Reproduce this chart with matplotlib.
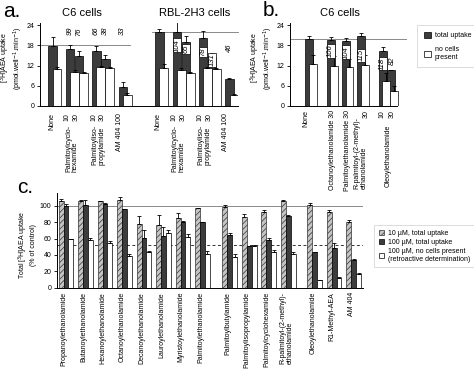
import matplotlib
matplotlib.use('Agg')
import numpy as np
import matplotlib.pyplot as plt
from matplotlib.patches import Patch
from matplotlib.transforms import blended_transform_factory

plt.rcParams['font.family'] = ['Liberation Sans', 'DejaVu Sans']
plt.rcParams['hatch.linewidth'] = 0.5
plt.rcParams['font.size'] = 5

DARK = '#3c3c3c'
HATCH_FACE = '#c4c4c4'

# ---------------- panel a data ----------------
a_doses = ['', '10', '30', '10', '30', '']
a_groups = ['None', 'Palmitoylcyclo-\nhexamide', 'Palmitoyliso-\npropylamide', 'AM 404 100']
c6_total = [17.7, 16.8, 14.8, 16.2, 13.8, 5.5]
c6_total_err = [2.8, 1.4, 1.4, 1.5, 1.3, 1.5]
c6_nocells = [10.9, 10.1, 9.7, 11.6, 11.2, 3.3]
c6_nocells_err = [0.6, 0.5, 0.5, 0.3, 0.3, 0.6]
c6_pct = ['', '99', '76', '66', '38', '33']
c6_control = 18.0
rbl_total = [21.9, 21.9, 19.0, 20.1, 14.6, 7.9]
rbl_total_err = [1.0, 3.6, 1.7, 2.2, 1.2, 0.4]
rbl_nocells = [11.2, 10.7, 9.7, 11.4, 10.9, 3.3]
rbl_nocells_err = [1.2, 0.5, 0.5, 0.3, 0.3, 0.2]
rbl_pct = ['', '104', '65', '78', '131', '46']
rbl_control = 22.0

# ---------------- panel b data ----------------
b_names = ['None', 'Octanoylethanolamide 30', 'Palmitoylethanolamide 30',
           'R-palmitoyl-(2-methyl)-\nethanolamide', '10', '30']
b_total = [19.8, 19.6, 19.4, 20.7, 16.4, 10.6]
b_total_err = [0.8, 0.8, 0.9, 1.0, 1.0, 0.0]
b_nocells = [12.4, 11.9, 11.7, 12.1, 7.4, 4.3]
b_nocells_err = [2.7, 3.0, 2.2, 3.0, 2.3, 1.5]
b_pct = ['', '106', '104', '115', '118', '82']
b_control = 20.0

# ---------------- panel c data ----------------
c_names = ['Propanoylethanolamide', 'Butanoylethanolamide', 'Hexanoylethanolamide',
           'Octanoylethanolamide', 'Decanoylethanolamide', 'Lauroylethanolamide',
           'Myristoylethanolamide', 'Palmitoylethanolamide', 'Palmitoylbutylamide',
           'Palmitoylisopropylamide', 'Palmitoylcyclohexamide',
           'R-palmitoyl-(2-methyl)-\nethanolamide', 'Oleoylethanolamide',
           'R1-Methyl-AEA', 'AM 404']
c_10_total = [105.5, 105.5, 105.5, 107, 78, 77, 84.5, 97, 98.5, 86, 92.5, 106, 100.5, 92.5, 80.5]
c_10_err = [2.5, 1, 0.5, 3.5, 9.5, 12, 7, 0.5, 2.5, 4, 2.5, 0.5, 2.5, 2.5, 2]
c_100_total = [99.5, 101, 102.5, 96, 60.5, 62.5, 80.5, 80, 64, 50.5, 58, 88, 43, 49, 33.5]
c_100_err = [2.5, 6, 1, 0.5, 10, 11, 0.5, 0.5, 3, 0.5, 2.5, 0.5, 0.5, 6, 1]
c_100_nocells = [59, 58.5, 54.5, 39, 43, 67, 62, 40.5, 38, 51, 44, 41, 9, 12, 17]
c_100_nocells_err = [0.5, 2, 2, 2, 2, 3.5, 3, 4, 3, 0.5, 2, 2.5, 0.5, 1.5, 1]
c_nocells_level = 52

W, H = 474, 375
fig = plt.figure(figsize=(4.74, 3.75), dpi=100)


def px_axes(x0, x1, y_base, y_top):
    return fig.add_axes([x0 / W, 1 - y_base / H, (x1 - x0) / W, (y_base - y_top) / H])


def style(ax):
    for s in ['top', 'right']:
        ax.spines[s].set_visible(False)
    for s in ['left', 'bottom']:
        ax.spines[s].set_linewidth(0.7)
    ax.tick_params(axis='y', length=2.5, width=0.6, pad=1.5, labelsize=5)
    ax.tick_params(axis='x', length=0, labelbottom=False)


def pair_bars(ax, pos, total, terr, nocells, nerr, w=0.95, off=0.5):
    pos = np.asarray(pos)
    z = np.zeros(len(pos))
    ax.bar(pos, total, w, color=DARK, edgecolor='black', linewidth=0.5,
           yerr=[z, terr], error_kw=dict(elinewidth=0.6, capsize=1.5, capthick=0.6), zorder=2)
    ax.bar(pos + off, nocells, w, color='white', edgecolor='black', linewidth=0.5,
           yerr=[z, nerr], error_kw=dict(elinewidth=0.6, capsize=1.5, capthick=0.6), zorder=3)


def pct_labels(ax, pos, labels, ys, boxed):
    for x, t, y, b in zip(pos, labels, ys, boxed):
        if not t:
            continue
        bbox = dict(boxstyle='square,pad=0.08', fc='white', ec='black', lw=0.5) if b else None
        ax.text(x, y, t, rotation=90, ha='center', va='center', style='italic',
                fontsize=5.5, bbox=bbox, zorder=5)


# ================= panel a =================
axa = px_axes(40, 238, 106, 23)
style(axa)
slot = np.array([0, 1.95, 2.95, 4.85, 5.85, 7.8])
c6_pos = slot
rbl_pos = slot + 11.85
pair_bars(axa, c6_pos, c6_total, c6_total_err, c6_nocells, c6_nocells_err)
pair_bars(axa, rbl_pos, rbl_total, rbl_total_err, rbl_nocells, rbl_nocells_err)
axa.set_xlim(-1.4, 20.6)
axa.set_ylim(0, 24.6)
axa.set_yticks([0, 6, 12, 18, 24])
axa.plot([-1.4, 8.6], [c6_control] * 2, color='#777777', lw=0.6, zorder=1)
axa.plot([11.0, 20.6], [rbl_control] * 2, color='#777777', lw=0.6, zorder=1, clip_on=False)
pct_labels(axa, c6_pos, c6_pct, [0, 22.2, 22.0, 22.2, 22.2, 22.2], [False] * 6)
pct_labels(axa, rbl_pos, rbl_pct, [0, 18.0, 17.0, 16.0, 13.6, 17.2],
           [False, True, True, True, True, False])

ta = blended_transform_factory(axa.transData, axa.transAxes)
for pos in (c6_pos, rbl_pos):
    axa.text(pos[0] - 0.1, -0.085, a_groups[0], rotation=90, ha='center', va='top', transform=ta)
    for x, d in zip(pos, a_doses):
        if d:
            axa.text(x - 0.3, -0.09, d, rotation=90, ha='center', va='top', transform=ta)
    axa.text((pos[1] + pos[2]) / 2 - 0.3, -0.23, a_groups[1], rotation=90, ha='center',
             va='top', multialignment='left', transform=ta, linespacing=1.0)
    axa.text((pos[3] + pos[4]) / 2 - 0.3, -0.23, a_groups[2], rotation=90, ha='center',
             va='top', multialignment='left', transform=ta, linespacing=1.0)
    axa.text(pos[5] - 0.4, -0.085, a_groups[3], rotation=90, ha='center', va='top', transform=ta)

fig.text(12 / W, 1 - 58 / H, '[$^{3}$H]AEA uptake\n(pmol.well$^{-1}$.min$^{-1}$)', rotation=90,
         ha='center', va='center', fontsize=5, linespacing=1.0)
fig.text(3 / W, 1 - 21 / H, 'a.', fontsize=15, va='bottom')
fig.text(82 / W, 1 - 18 / H, 'C6 cells', fontsize=8, ha='center', va='bottom')
fig.text(195 / W, 1 - 18 / H, 'RBL-2H3 cells', fontsize=8, ha='center', va='bottom')

# ================= panel b =================
axb = px_axes(290, 407, 106, 23)
style(axb)
b_pos = np.array([0, 2.7, 4.6, 6.5, 9.2, 10.2])
pair_bars(axb, b_pos, b_total, b_total_err, b_nocells, b_nocells_err, w=1.0, off=0.45)
axb.set_xlim(-2.4, 12.25)
axb.set_ylim(0, 24.6)
axb.set_yticks([0, 6, 12, 18, 24])
axb.spines['bottom'].set_bounds(-2.4, 11.0)
axb.axhline(b_control, color='#777777', lw=0.6, zorder=1)
pct_labels(axb, b_pos[:5], b_pct[:5], [0, 16.4, 15.9, 15.0, 12.6], [False, True, True, True, True])
axb.text(b_pos[5] + 0.15, 13.5, b_pct[5], rotation=90, ha='center', va='center',
         style='italic', fontsize=5.5)

tb = blended_transform_factory(axb.transData, axb.transAxes)
axb.text(b_pos[0] - 0.4, -0.05, b_names[0], rotation=90, ha='center', va='top', transform=tb)
axb.text(b_pos[1] + 0.2, -0.05, b_names[1], rotation=90, ha='center', va='top', transform=tb)
axb.text(b_pos[2] + 0.2, -0.05, b_names[2], rotation=90, ha='center', va='top', transform=tb)
axb.text(b_pos[3] - 0.1, -0.13, b_names[3], rotation=90, ha='center', va='top',
         multialignment='left', transform=tb, linespacing=1.0)
axb.text(b_pos[3] + 0.6, -0.05, '30', rotation=90, ha='center', va='top', transform=tb)
axb.text(b_pos[4] - 0.1, -0.05, b_names[4], rotation=90, ha='center', va='top', transform=tb)
axb.text(b_pos[5] + 0.2, -0.05, b_names[5], rotation=90, ha='center', va='top', transform=tb)
axb.text((b_pos[4] + b_pos[5]) / 2 + 0.2, -0.22, 'Oleoylethanolamide', rotation=90,
         ha='center', va='top', transform=tb)

fig.text(263 / W, 1 - 20 / H, 'b.', fontsize=15, va='bottom')
fig.text(340 / W, 1 - 18 / H, 'C6 cells', fontsize=8, ha='center', va='bottom')
fig.text(262 / W, 1 - 58 / H, '[$^{3}$H]AEA uptake\n(pmol.well$^{-1}$.min$^{-1}$)', rotation=90,
         ha='center', va='center', fontsize=5, linespacing=1.0)

b_handles = [Patch(facecolor=DARK, edgecolor='black', linewidth=0.5, label='total uptake'),
             Patch(facecolor='white', edgecolor='black', linewidth=0.5, label='no cells\npresent')]
legb = fig.legend(handles=b_handles, loc='upper left', bbox_to_anchor=(414 / W, 1 - 22 / H),
                  fontsize=5, frameon=True, fancybox=False, edgecolor='#cccccc',
                  handlelength=1.0, handleheight=1.0, handletextpad=0.6, labelspacing=1.0,
                  borderpad=0.9)
legb.get_frame().set_linewidth(0.6)

# ================= panel c =================
axc = px_axes(57, 363, 287.7, 192.6)
style(axc)
c_pos = np.array([0, 1, 2, 3, 4, 5, 6, 7, 8.4, 9.4, 10.4, 11.4, 12.75, 13.75, 14.75])
z = np.zeros(len(c_pos))
ekw = dict(elinewidth=0.6, capsize=1.2, capthick=0.6)
bw = 0.25
axc.bar(c_pos - bw, c_10_total, bw, color=HATCH_FACE, edgecolor='#333333', linewidth=0.5,
        hatch='//////', yerr=[z, c_10_err], error_kw=ekw, zorder=2)
axc.bar(c_pos, c_100_total, bw, color=DARK, edgecolor='black', linewidth=0.5,
        yerr=[z, c_100_err], error_kw=ekw, zorder=2)
axc.bar(c_pos + bw, c_100_nocells, bw, color='white', edgecolor='black', linewidth=0.5,
        yerr=[z, c_100_nocells_err], error_kw=ekw, zorder=2)
axc.set_xlim(-0.46, 15.23)
axc.set_ylim(0, 116)
axc.set_yticks([0, 20, 40, 60, 80, 100])
axc.axhline(100, color='#777777', lw=0.6, zorder=1)
axc.axhline(c_nocells_level, color='#333333', lw=0.7, ls=(0, (3, 2.5)), zorder=1)

tc = blended_transform_factory(axc.transData, axc.transAxes)
for x, name in zip(c_pos, c_names):
    axc.text(x - 0.1, -0.045, name, rotation=90, ha='center', va='top',
             multialignment='left', transform=tc, linespacing=1.0, fontsize=5)

fig.text(27 / W, 1 - 245 / H, 'Total [$^{3}$H]AEA uptake\n(% of control)', rotation=90,
         ha='center', va='center', fontsize=5, linespacing=1.1)
fig.text(17 / W, 1 - 197 / H, 'c.', fontsize=15, va='bottom')

c_handles = [Patch(facecolor=HATCH_FACE, edgecolor='#333333', linewidth=0.5, hatch='//////',
                   label='10 \u00b5M, total uptake'),
             Patch(facecolor=DARK, edgecolor='black', linewidth=0.5, label='100 \u00b5M, total uptake'),
             Patch(facecolor='white', edgecolor='black', linewidth=0.5,
                   label='100 \u00b5M, no cells present\n(retroactive determination)')]
legc = fig.legend(handles=c_handles, loc='upper left', bbox_to_anchor=(371 / W, 1 - 222 / H),
                  fontsize=5, frameon=True, fancybox=False, edgecolor='#cccccc',
                  handlelength=0.8, handleheight=0.8, handletextpad=0.6, labelspacing=0.3,
                  borderpad=0.6)
legc.get_frame().set_linewidth(0.6)

fig.savefig('out.png', dpi=100)
